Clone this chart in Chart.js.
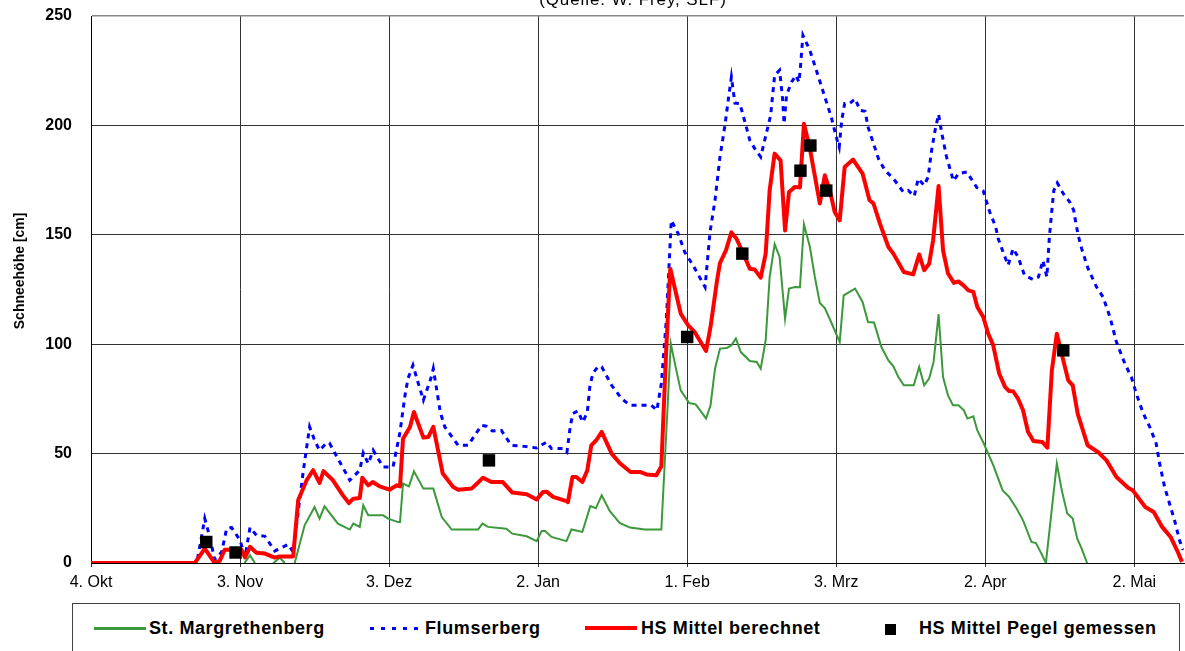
<!DOCTYPE html>
<html lang="de">
<head>
<meta charset="utf-8">
<title>Schneehöhe St. Margrethenberg und Flumserberg</title>
<script src="https://cdn.jsdelivr.net/npm/chart.js@4.4.1/dist/chart.umd.min.js"></script>
<style>
  html, body { margin: 0; padding: 0; background: #fff; }
  #wrap { position: relative; width: 1185px; height: 651px; overflow: hidden; background: #fff;
          font-family: 'Liberation Sans', Arial, sans-serif; color: #000; }
  #chart { position: absolute; left: 0; top: 0; }
  #quelle { position: absolute; left: 433px; width: 400px; top: -9px; text-align: center;
            font-size: 17px; line-height: 17px; letter-spacing: 0.9px; white-space: nowrap; }
  #legend { position: absolute; left: 72px; top: 603px; width: 1108px; height: 70px;
            border: 1px solid #444; box-sizing: border-box; background: #fff; }
  .sym { position: absolute; }
  .txt { position: absolute; top: 15px; font-size: 18px; line-height: 18px; font-weight: bold;
         letter-spacing: 0.6px; white-space: nowrap; }
</style>
</head>
<body>
<div id="wrap">
  <canvas id="chart" width="1185" height="600"></canvas>
  <div id="quelle">(Quelle: W. Frey, SLF)</div>
  <div id="legend">
    <div class="sym" style="left:21px; top:23px; width:52px; height:3px; background:#3b993b;"></div>
    <div class="txt" style="left:76px;">St. Margrethenberg</div>
    <div class="sym" style="left:297px; top:23px; width:48px; height:3px;
         background: repeating-linear-gradient(to right, #0000ff 0 4px, transparent 4px 11px);"></div>
    <div class="txt" style="left:352px;">Flumserberg</div>
    <div class="sym" style="left:512px; top:22px; width:52px; height:4px; background:#ff0000;"></div>
    <div class="txt" style="left:568px;">HS Mittel berechnet</div>
    <div class="sym" style="left:812px; top:20px; width:11px; height:11px; background:#000;"></div>
    <div class="txt" style="left:846px;">HS Mittel Pegel gemessen</div>
  </div>
</div>
<script>
// x axis: days counted from 4 October
const tickDays   = [0, 30, 60, 90, 120, 150, 180, 210];
const tickLabels = ['4. Okt', '3. Nov', '3. Dez', '2. Jan', '1. Feb', '3. Mrz', '2. Apr', '2. Mai'];
const yTitle = 'Schneehöhe [cm]';

// St. Margrethenberg (snow depth in cm); null = no line drawn
const margDay = [0, 20.9, 22, 30.9, 32.0, 33.0, 35.0, 36.7, 38.0, 39.0, 40.0, 41.0, 43.0, 45.0, 46.0, 47.0,
  49.7, 52.1, 52.8, 54.1, 54.8, 55.8, 58.8, 59.8, 61.8, 62.2, 62.8, 64.0, 65.0, 66.9, 68.9, 70.6, 72.6,
  77.9, 78.8, 79.9, 83.6, 84.8, 87.7, 89.7, 90.7, 91.4, 92.7, 95.7, 96.7, 98.9, 100.5, 101.6, 102.8,
  104.4, 106.4, 108.5, 111.5, 114.8, 116.7, 117.7, 118.7, 120.4, 121.7, 122.7, 123.8, 124.7, 125.6,
  126.6, 128.0, 128.9, 129.8, 130.8, 132.6, 134.0, 134.8, 135.8, 136.6, 137.6, 138.6, 139.7, 140.5,
  141.7, 142.7, 143.5, 144.7, 145.7, 146.7, 147.7, 148.7, 150.7, 151.5, 153.8, 155.3, 156.4, 157.6,
  159.1, 160.5, 161.5, 162.5, 163.6, 165.6, 166.7, 167.7, 168.7, 169.6, 170.6, 171.5, 172.5, 173.5,
  174.6, 175.7, 176.4, 177.6, 178.4, 179.7, 181.6, 183.5, 184.8, 186.3, 187.6, 189.3, 190.2, 191.3,
  192.2, 194.4, 195.4, 196.5, 197.6, 198.5, 199.4, 200.5];
const margHS = [0, 0, null, 0, 3.5, 0, null, 0, 2.4, 0, null, 0, 17.2, 25.6, 20.3, 25.9,
  18, 15.3, 18, 16.5, 26.4, 21.8, 21.8, 20.3, 18.7, 18.7, 36.3, 35, 41.9, 34, 34, 21, 15.3,
  15.3, 18, 16.5, 15.7, 13.4, 12.2, 10, 14.6, 14.6, 11.9, 10, 15.3, 14.2, 26, 25, 30.9,
  23.8, 18.3, 16.2, 15.3, 15.3, 100.3, 89.3, 78.9, 73.1, 72.5, 69.5, 66, 72.1, 88.8,
  98, 98.3, 99.5, 102.6, 96.4, 92.3, 91.9, 88.8, 101.8, 130.7, 145.7, 139.9, 111.7, 125.4,
  126.1, 126, 154.8, 144.4, 130.7, 118.8, 116.5, 111.5, 101, 122.3, 125.4, 119.3, 110.1, 109.9,
  98.7, 92.6, 89.9, 85, 81.2, 81.2, 89.6, 81.2, 84.3, 91.9, 113.7, 85, 76.6, 72.1,
  72.1, 69.8, 66, 67, 60.6, 54.6, 44.7, 33.2, 30.2, 24.9, 19.5, 9.6, 9.1, 4.3,
  0, 45.4, 33.2, 22.6, 20.3, 11.2, 6.6, 0];

// Flumserberg (snow depth in cm)
const flumsDay = [0, 21.3, 22.9, 23.9, 24.9, 26.3, 27.3, 28.3, 30.0, 31.0, 32.0, 33.3, 35.0, 37.0, 39.7, 40.7,
  42.7, 44.0, 45.0, 46.0, 47.4, 48.0, 49.7, 52.1, 53.1, 54.1, 54.8, 55.8, 56.8, 58.8, 60.8, 62.2, 63.2,
  63.8, 64.8, 65.8, 66.9, 68.5, 68.9, 69.5, 70.3, 71.2, 73.9, 75.9, 78.6, 79.6, 80.8, 82.6, 84.6, 87.3,
  89.7, 91.7, 92.7, 95.1, 95.8, 96.5, 97.0, 98.0, 99.0, 99.9, 100.4, 101.0, 102.1, 102.8, 104.8, 106.8,
  108.5, 112.8, 113.9, 114.8, 115.8, 116.8, 118.2, 119.5, 121.2, 123.6, 124.6, 125.6, 126.6, 127.6,
  128.3, 128.9, 129.6, 130.6, 131.9, 132.6, 133.6, 134.8, 136.0, 136.8, 137.6, 138.6, 139.2, 139.5,
  140.0, 141.0, 141.9, 142.5, 142.8, 143.3, 144.7, 146.0, 147.7, 149.0, 150.0, 150.6, 151.1, 151.7,
  152.7, 153.8, 154.8, 155.8, 156.4, 158.5, 159.8, 161.5, 163.5, 164.5, 165.7, 166.5, 167.7, 168.5,
  169.2, 169.9, 170.6, 171.2, 172.2, 173.6, 174.6, 176.3, 178.3, 179.6, 180.9, 182.1, 182.6, 183.7,
  184.6, 185.6, 186.6, 187.9, 189.7, 190.7, 191.6, 192.4, 192.9, 193.4, 193.8, 194.5, 195.7, 197.0,
  197.8, 198.2, 198.7, 199.4, 200.7, 202.4, 203.7, 205.1, 206.4, 208.1, 209.4, 210.4, 211.8, 213.1,
  214.4, 215.1, 216.1, 217.1, 218.1, 219.1, 219.8];
const flumsHS = [0, 0, 20.3, 11.9, 1.6, 5, 15.7, 16.2, 10.4, 2.7, 16.2, 12.7, 12.2, 5.5, 8.5, 5,
  41.6, 62.2, 56.1, 51.5, 54.8, 54.8, 47.7, 37.8, 40.1, 42.4, 50.3, 45.4, 51.5, 43.9, 43.9, 59.9, 76.6,
  84.3, 90.4, 82.7, 74.4, 85, 88.8, 80.4, 69, 62.2, 53.8, 53.8, 62.9, 62.5, 60.3, 60.6, 53.8, 53.3,
  52.6, 55.3, 52.3, 52.3, 50.7, 62.9, 68.3, 69.5, 64.4, 69, 80.4, 86.6, 89.9, 89.6, 81.2, 75.1,
  72.1, 72.1, 69.8, 82, 111, 156.6, 150.5, 142.1, 136, 126.1, 151.3, 165.8, 185.6, 200,
  212.2, 222.1, 210.2, 210, 199.3, 193.2, 189.4, 185.6, 197, 204.6, 222.9, 225.2, 212.2, 200.8,
  213.8, 219.8, 222.9, 219.8, 226.7, 241.2, 234.3, 225.2, 213, 203.8, 194.7, 190.1, 202.3, 210,
  210, 212.2, 206.9, 206.5, 199.3, 184.8, 179.5, 175.7, 169.6, 170.3, 167.6, 175.7, 172.6, 176.4,
  188.6, 197.8, 205.1, 197, 185.6, 174.6, 178, 178.7, 171.6, 170, 160.4, 153.6, 148.3, 141.4,
  136.1, 143.7, 139.9, 131.5, 129.5, 130.7, 138.3, 130.7, 149, 161.2, 170.3, 173.7, 168.8, 165,
  161.2, 155.8, 149.8, 143.7, 134.5, 126.1, 121.6, 112.4, 101, 91.1, 85, 77.4, 68.3, 62.2,
  54.6, 45.4, 34.7, 27.1, 19.5, 10.4, 6];

// mean snow depth, computed (cm)
const mittelDay = [0, 20.9, 22.9, 24.9, 25.9, 26.9, 30.3, 31.0, 32.0, 33.3, 35.0, 37.0, 38.0, 40.7, 41.7,
  43.4, 44.7, 46.0, 46.8, 48.7, 50.7, 51.9, 52.8, 54.1, 54.6, 55.8, 56.7, 58.1, 60.1, 61.5, 62.2, 62.8,
  64.2, 65.0, 66.9, 67.9, 68.9, 70.8, 72.9, 73.9, 76.6, 77.7, 78.9, 80.6, 82.9, 84.8, 87.7, 89.7, 91.0,
  91.7, 93.0, 95.7, 96.0, 96.9, 97.7, 98.9, 99.9, 100.7, 101.7, 102.8, 104.8, 106.4, 108.6, 110.5,
  111.8, 113.8, 114.8, 115.8, 116.6, 118.7, 120.2, 121.5, 123.8, 124.7, 126.0, 126.6, 127.8, 128.9,
  129.9, 131.3, 132.6, 133.6, 134.8, 135.8, 136.6, 137.6, 138.8, 139.7, 140.5, 141.7, 142.7, 143.5,
  144.7, 146.7, 147.7, 148.7, 149.7, 150.7, 151.7, 153.4, 155.3, 156.7, 157.5, 158.8, 160.5, 161.5,
  163.6, 165.5, 166.7, 167.7, 168.7, 169.5, 170.6, 171.5, 172.5, 173.7, 174.6, 175.6, 176.6, 177.6,
  178.4, 179.6, 180.6, 181.6, 182.8, 184.0, 184.8, 185.6, 186.6, 187.6, 188.6, 189.7, 191.5, 192.5,
  193.4, 194.4, 195.7, 196.7, 197.6, 198.6, 200.6, 202.8, 204.4, 206.4, 208.8, 209.7, 212.2, 213.9,
  215.6, 217.3, 218.6, 219.6];
const mittelHS = [0, 0, 6.6, 0, 1, 6, 6, 2.5, 7.4, 4.7, 4.3, 2.5, 3, 3, 28.7,
  37.8, 42.4, 36.6, 42, 37.8, 30.9, 27.4, 29.4, 29.7, 39, 35.5, 37, 35, 33.5, 35.5, 35, 56.8,
  62.2, 69, 57.3, 57.6, 62.2, 40.9, 34.7, 33.5, 34, 36.3, 39, 37, 37, 32.2, 31.4, 29, 32.5,
  32.6, 30.2, 28.3, 27.8, 39.3, 39.3, 37, 42.4, 53.8, 56.1, 59.9, 50, 45.7, 41.6, 41.6,
  40.5, 40.1, 44.2, 98.7, 134.5, 114, 108.6, 105.6, 96.9, 107.9, 129, 137.1, 142.9, 151.1,
  148.3, 141.4, 134.5, 134.1, 130.4, 141.4, 170.3, 187.1, 184, 152, 169.6, 171.9, 171.6, 200.8,
  189.4, 164.3, 177.2, 170.3, 160.4, 156.6, 181, 184.4, 178, 165.8, 164.3, 155.1, 144.4, 141.4,
  133, 131.9, 141, 133.8, 136.8, 147.5, 172.3, 142.9, 132.3, 128, 128.7, 126.9, 124.6, 123.9,
  117, 112.4, 104.8, 99.5, 86.6, 80.4, 78.6, 78.5, 75.1, 69.8, 60, 55.8, 55.3, 52.7,
  88, 104.8, 92.6, 83.5, 81.2, 68.3, 53.8, 50.5, 46.9, 39.3, 34.3, 33.2, 25.6, 23.3,
  16.5, 11.9, 5.8, 0.5];

// mean snow depth, measured at the gauge (cm)
const pegelDay = [23.2, 29.1, 80.1, 120.0, 131.1, 142.8, 144.8, 148.0, 195.7];
const pegelHS  = [9.6, 4.8, 46.9, 103.3, 141.4, 179.3, 190.8, 170.2, 97.2];

const toPoints = (xs, ys) => xs.map((x, i) => ({ x: x, y: ys[i] }));

Chart.defaults.font.family = "'Liberation Sans', Arial, sans-serif";
Chart.defaults.color = '#000';

// vertical axis caption, set a little above the middle of the value axis
const axisCaption = {
  id: 'axisCaption',
  afterDraw(chart) {
    const { ctx, chartArea } = chart;
    ctx.save();
    ctx.translate(20, chartArea.top + (chartArea.bottom - chartArea.top) * 0.466);
    ctx.rotate(-Math.PI / 2);
    ctx.font = "bold 14px 'Liberation Sans', Arial, sans-serif";
    ctx.fillStyle = '#000';
    ctx.textAlign = 'center';
    ctx.textBaseline = 'middle';
    ctx.fillText(yTitle, 0, 0);
    ctx.restore();
  }
};

new Chart(document.getElementById('chart'), {
  type: 'scatter',
  plugins: [axisCaption],
  data: {
    datasets: [
      { label: 'St. Margrethenberg', data: toPoints(margDay, margHS), showLine: true, spanGaps: false,
        borderColor: '#3b993b', borderWidth: 2, pointRadius: 0, order: 3 },
      { label: 'Flumserberg', data: toPoints(flumsDay, flumsHS), showLine: true,
        borderColor: '#0000ff', borderWidth: 3, borderDash: [5, 5], pointRadius: 0, order: 2 },
      { label: 'HS Mittel berechnet', data: toPoints(mittelDay, mittelHS), showLine: true,
        borderColor: '#ff0000', borderWidth: 4, borderJoinStyle: 'round', pointRadius: 0, order: 1 },
      { label: 'HS Mittel Pegel gemessen', data: toPoints(pegelDay, pegelHS), showLine: false,
        pointStyle: 'rect', pointRadius: 8.8, backgroundColor: '#000', borderColor: '#000',
        borderWidth: 0, order: 0 }
    ]
  },
  options: {
    responsive: false,
    animation: false,
    devicePixelRatio: 1,
    layout: { autoPadding: false, padding: { top: 16, right: 1, left: 0, bottom: 0 } },
    plugins: { legend: { display: false }, tooltip: { enabled: false }, title: { display: false } },
    scales: {
      x: {
        type: 'linear', min: 0, max: 220,
        afterBuildTicks: (s) => { s.ticks = tickDays.map(v => ({ value: v })); },
        afterFit: (s) => { s.height = 37; s.paddingLeft = 0; s.paddingRight = 0; },
        ticks: {
          callback: (v) => { const i = tickDays.indexOf(v); return i >= 0 ? tickLabels[i] : ''; },
          font: { size: 16 }, color: '#000', padding: 6, maxRotation: 0, autoSkip: false
        },
        grid: { color: '#333', lineWidth: 1, tickLength: 4, drawTicks: true },
        border: { color: '#000', width: 1 }
      },
      y: {
        min: 0, max: 250,
        afterFit: (s) => { s.width = 91; s.paddingTop = 0; s.paddingBottom = 0; },
        ticks: { stepSize: 50, font: { size: 16, weight: 'bold' }, color: '#000', padding: 19 },
        grid: {
          color: (c) => (c.tick && c.tick.value === 250) ? '#888' : '#333',
          lineWidth: (c) => (c.tick && c.tick.value === 250) ? 1.5 : 1,
          drawTicks: false
        },
        border: { color: '#000', width: 1 },
        title: { display: false }
      }
    }
  }
});
</script>
</body>
</html>
